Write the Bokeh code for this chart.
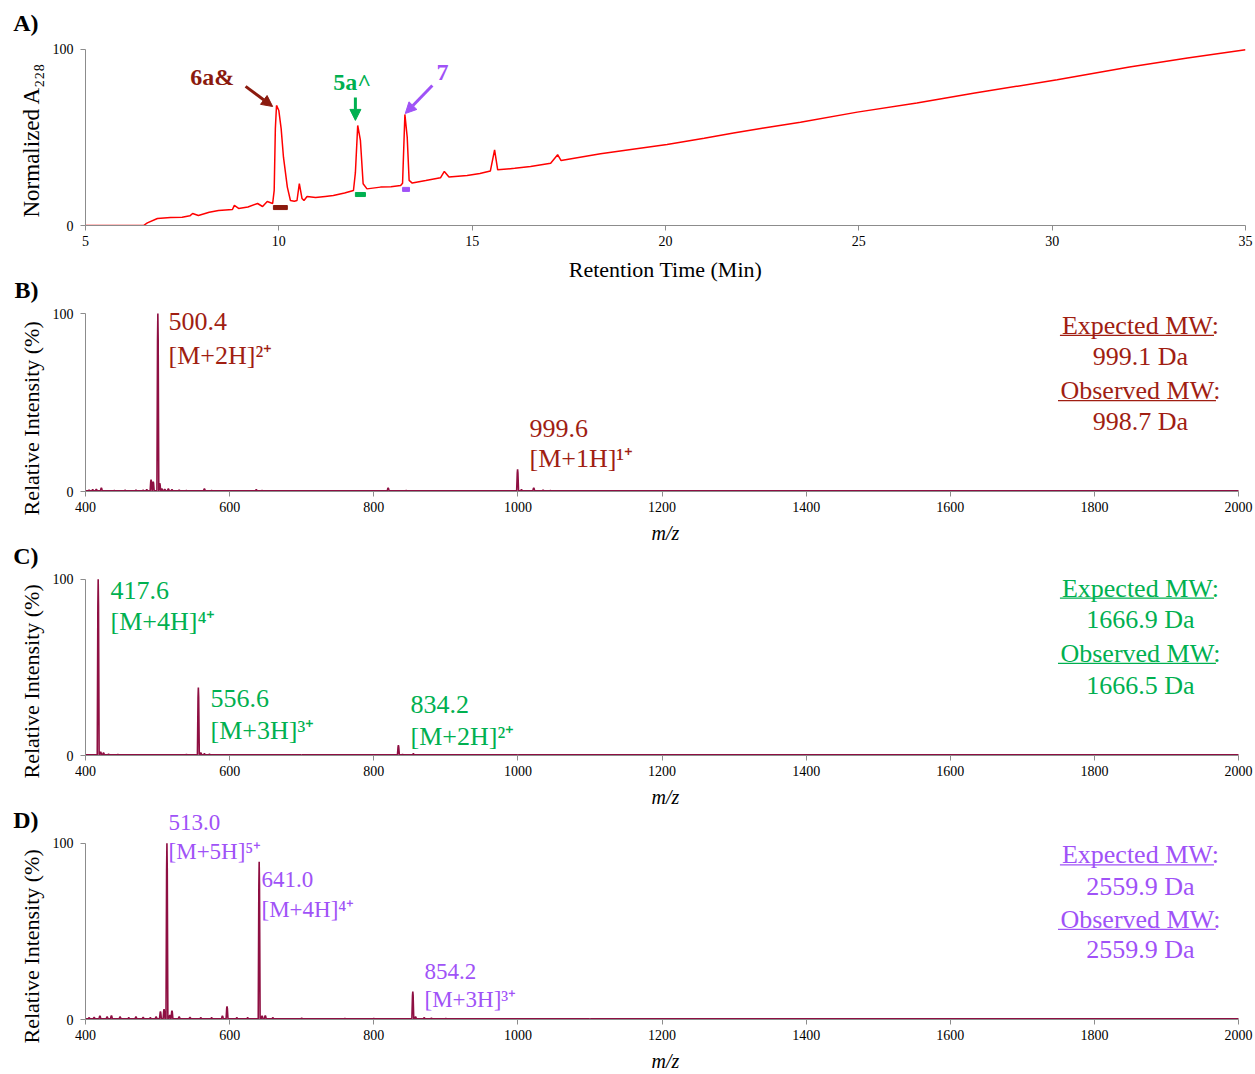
from bokeh.plotting import figure
from bokeh.layouts import column
from bokeh.models import Label, Arrow, NormalHead, FixedTicker, Range1d, LinearAxis, Title
from bokeh.embed import file_html
from bokeh.resources import INLINE

FONT = "Liberation Serif"

# ---------------- data ----------------
chrom_time = [5.0, 6.5, 6.6, 6.86, 7.2, 7.5, 7.7, 7.77, 7.92, 8.2, 8.44, 8.8, 8.85, 8.96, 9.2,
              9.45, 9.58, 9.7, 9.84, 9.88, 9.91, 9.94, 10.0, 10.06, 10.12, 10.22, 10.3, 10.4,
              10.47, 10.53, 10.6, 10.65, 10.73, 10.95, 11.2, 11.41, 11.7, 11.93, 11.98, 12.04,
              12.11, 12.18, 12.28, 12.63, 12.9, 13.15, 13.2, 13.26, 13.32, 13.37, 13.45, 13.8,
              14.18, 14.28, 14.4, 14.87, 15.2, 15.47, 15.58, 15.66, 16.1, 16.51, 17.03, 17.21,
              17.3, 18.32, 19.2, 20.04, 21.0, 21.76, 22.5, 23.49, 24.96, 26.5, 28.0, 30.13,
              32.0, 33.5, 35.0]
chrom_abs = [0, 0, 1.5, 4.0, 4.5, 4.7, 5.5, 6.8, 5.7, 7.5, 8.5, 9.1, 11.4, 9.7, 10.5,
             12.5, 10.8, 13.6, 12.5, 20, 55, 68.2, 65.3, 55, 38.8, 21.8, 14.2, 13.8,
             14.2, 23.8, 15.3, 14.2, 16.5, 15.9, 16.5, 17.0, 18.5, 19.9, 30, 56.8,
             48.3, 23.7, 20.8, 21.8, 22.0, 22.7, 24.0, 63.1, 50.2, 25.6, 24.1, 25.5,
             27.1, 30.7, 27.5, 28.4, 29.5, 30.9, 43.0, 31.6, 32.5, 33.5, 35.4, 40.2,
             36.9, 40.7, 43.5, 46.0, 49.5, 52.5, 55.3, 58.7, 64.4, 69.6, 75.2, 82.8,
             90.0, 95.2, 99.8]
chrom_ticks = [5, 10, 15, 20, 25, 30, 35]

frac_start = [9.86, 11.98, 13.20]
frac_end = [10.22, 12.24, 13.38]
frac_level = [10.2, 17.6, 20.5]
frac_names = ["6a&", "5a^", "7"]

B_mz = [405, 410, 415, 422, 440, 455, 470, 480, 485, 491, 494, 500.4, 503, 506, 510, 515,
        520, 530, 540, 565, 575, 637, 645, 820, 845, 999.6, 1005, 1022, 1035, 1045]
B_int = [0.8, 1.0, 1.2, 2.0, 0.6, 0.7, 0.8, 0.7, 1.0, 6.7, 5.5, 100, 4.7, 1.5, 1.2, 1.5,
         1.0, 0.8, 0.6, 1.5, 0.6, 1.0, 0.6, 2.0, 0.6, 12.4, 1.0, 2.0, 0.8, 0.5]

C_mz = [410, 417.6, 421, 425, 432, 445, 460, 490, 520, 540, 556.6, 560, 565, 572, 600, 700,
        834.2, 840, 855, 880, 1000]
C_int = [0.4, 100, 2.0, 1.5, 0.8, 0.6, 0.5, 0.4, 0.4, 0.6, 38.6, 1.5, 1.0, 0.8, 0.4, 0.3,
         5.8, 0.6, 1.0, 0.5, 0.3]

D_mz = [405, 412, 420, 430, 436, 448, 460, 470, 480, 490, 498, 504, 509, 513.0, 517, 520,
        530, 545, 560, 575, 590, 596.4, 610, 625, 641.0, 645, 649.5, 660, 700, 760, 800,
        854.2, 858, 870, 880, 900, 950, 1000, 1100]
D_int = [1.0, 1.2, 2.0, 1.5, 2.2, 1.5, 1.0, 1.5, 1.2, 1.0, 1.5, 4.5, 5.8, 100, 2.5, 5.0,
         1.5, 1.2, 1.0, 1.0, 2.0, 7.5, 1.0, 1.0, 89.5, 2.0, 2.2, 1.0, 0.8, 0.6, 0.6,
         15.9, 1.5, 1.0, 0.8, 0.6, 0.5, 0.4, 0.3]

ms_ticks = [400, 600, 800, 1000, 1200, 1400, 1600, 1800, 2000]

B_peak_labels = [("500.4", "[M+2H]²⁺", 515.2, 95.5, 76.4),
                 ("999.6", "[M+1H]¹⁺", 1016.1, 35.4, 18.5)]
C_peak_labels = [("417.6", "[M+4H]⁴⁺", 434.7, 93.8, 75.8),
                 ("556.6", "[M+3H]³⁺", 573.5, 32.6, 14.0),
                 ("834.2", "[M+2H]²⁺", 851.0, 29.2, 10.7)]
D_peak_labels = [("513.0", "[M+5H]⁵⁺", 515.2, 111.8, 95.5),
                 ("641.0", "[M+4H]⁴⁺", 644.2, 79.2, 62.4),
                 ("854.2", "[M+3H]³⁺", 870.4, 27.5, 11.2)]

B_mw = ("999.1 Da", "998.7 Da")
C_mw = ("1666.9 Da", "1666.5 Da")
D_mw = ("2559.9 Da", "2559.9 Da")

DARKRED = "#8B1A0E"
GREEN = "#00B050"
PURPLE = "#9F52F7"
MSRED = "#A01E12"
TRACE = "#8E0F42"
AXIS = "#8C8C8C"


def style(p, xticks, xlabel, italic_x, xaxis_bounds=None):
    p.xgrid.visible = False
    p.ygrid.visible = False
    p.outline_line_color = None
    p.border_fill_color = None
    p.background_fill_color = None
    p.xaxis.ticker = FixedTicker(ticks=xticks)
    p.yaxis.ticker = FixedTicker(ticks=[0, 100])
    p.yaxis.bounds = (0, 100)
    if xaxis_bounds is not None:
        p.xaxis.bounds = xaxis_bounds
    for ax in (p.xaxis[0], p.yaxis[0]):
        ax.axis_line_color = AXIS
        ax.major_tick_line_color = AXIS
        ax.minor_tick_line_color = None
        ax.major_tick_in = 0
        ax.major_tick_out = 5
        ax.major_label_text_font = FONT
        ax.major_label_text_font_size = "14px"
        ax.major_label_text_color = "black"
        ax.axis_label_text_font = FONT
        ax.axis_label_text_color = "black"
    p.xaxis.axis_label = xlabel
    p.xaxis.axis_label_text_font_size = "20px" if italic_x else "22px"
    p.xaxis.axis_label_text_font_style = "italic" if italic_x else "normal"
    p.xaxis.major_label_standoff = 5
    p.yaxis.major_label_standoff = 7
    p.xaxis.axis_label_standoff = 7


def side_texts(p, ylabel, ylabel_size, ylabel_offset, letter, letter_y):
    # y-axis title (rotated) placed next to the axis
    p.add_layout(Title(text=ylabel, align="left", offset=ylabel_offset, standoff=11,
                       text_font=FONT, text_font_size=f"{ylabel_size}px",
                       text_font_style="normal", text_color="black"), "left")
    # panel letter as a horizontal label of an unlined extra axis
    ax = LinearAxis(ticker=FixedTicker(ticks=[letter_y]),
                    major_label_overrides={letter_y: letter},
                    axis_line_color=None, major_tick_line_color=None,
                    minor_tick_line_color=None, major_tick_in=0, major_tick_out=0,
                    major_label_standoff=-27, major_label_text_font=FONT,
                    major_label_text_font_size="24px", major_label_text_font_style="bold",
                    major_label_text_color="black")
    p.add_layout(ax, "left")


def lab(p, x, y, text, color, size, align="left", bold=False):
    p.add_layout(Label(x=x, y=y, text=text, text_color=color, text_font=FONT,
                       text_font_size=f"{size}px", text_align=align,
                       text_baseline="middle",
                       text_font_style="bold" if bold else "normal"))


def profile(mz, inten, lo=400, hi=2000, base=0.35, w=1.3):
    xs, ys = [lo], [base]
    for m, h in sorted(zip(mz, inten)):
        xs += [m - w, m - 0.35 * w, m, m + 0.35 * w, m + w]
        ys += [base, h * 0.85, h, h * 0.85, base]
    xs.append(hi)
    ys.append(base)
    return xs, ys


# ---------------- panel A ----------------
pA = figure(width=1255, height=285, x_range=Range1d(5, 35), y_range=Range1d(0, 127.8),
            min_border_left=85, min_border_right=10, min_border_top=0, min_border_bottom=60,
            output_backend="svg", toolbar_location=None)
style(pA, chrom_ticks, "Retention Time (Min)", False)
pA.xaxis.axis_label_standoff = 8
side_texts(pA, "Normalized A₂₂₈", 23, 8, "A)", 115)
pA.line(chrom_time, chrom_abs, line_color="#FF0000", line_width=1.5)
pA.hbar(y=frac_level, left=frac_start, right=frac_end, height=2.3,
        color=[DARKRED, GREEN, PURPLE])
lab(pA, 8.28, 84.1, "6a&", DARKRED, 24, align="center", bold=True)
lab(pA, 11.9, 81.3, "5a^", GREEN, 24, align="center", bold=True)
lab(pA, 14.23, 86.9, "7", PURPLE, 24, align="center", bold=True)
for (x0, y0, x1, y1, c) in [(9.14, 79.0, 9.84, 67.6, DARKRED),
                            (11.98, 72.7, 11.98, 59.7, GREEN),
                            (13.97, 79.5, 13.27, 63.6, PURPLE)]:
    pA.add_layout(Arrow(end=NormalHead(size=11, fill_color=c, line_color=c),
                        x_start=x0, y_start=y0, x_end=x1, y_end=y1,
                        line_color=c, line_width=3))


# ---------------- MS panels ----------------
def ms_panel(height, top_margin, ytop, bottom, mz, inten, letter, letter_y, ylab_off,
             peak_labels, color, peak_size, mw, mw_ys):
    p = figure(width=1255, height=height, x_range=Range1d(400, 2009.7),
               y_range=Range1d(0, ytop),
               min_border_left=85, min_border_right=10, min_border_top=0,
               min_border_bottom=bottom, output_backend="svg", toolbar_location=None)
    p.margin = (top_margin, 0, 0, 0)
    style(p, ms_ticks, "m/z", True, xaxis_bounds=(400, 2000))
    side_texts(p, "Relative Intensity (%)", 22, ylab_off, letter, letter_y)
    xs, ys = profile(mz, inten)
    p.line(xs, ys, line_color=TRACE, line_width=1.6)
    for (t1, t2, x, y1, y2) in peak_labels:
        lab(p, x, y1, t1, color, peak_size)
        lab(p, x, y2, t2, color, peak_size)
    cx = 1864
    texts = ["Expected MW:", mw[0], "Observed MW:", mw[1]]
    for t, y in zip(texts, mw_ys):
        lab(p, cx, y, t, color, 26, align="center")
    # underlines for the two headings
    p.segment(x0=[cx - 4.9 - 106.9, cx - 4.9 - 109.6], y0=[mw_ys[0] - 5.6, mw_ys[2] - 5.6],
              x1=[cx - 4.9 + 106.9, cx - 4.9 + 109.6], y1=[mw_ys[0] - 5.6, mw_ys[2] - 5.6],
              line_color=color, line_width=1.3)
    return p


pB = ms_panel(275, -14, 123.6, 55, B_mz, B_int, "B)", 113, -24, B_peak_labels, MSRED, 26,
              B_mw, [93.3, 75.8, 56.7, 39.3])
pC = ms_panel(274, -10, 124.2, 53, C_mz, C_int, "C)", 113, -23, C_peak_labels, GREEN, 26,
              C_mw, [94.9, 77.0, 57.9, 39.9])
pD = ms_panel(274, -10, 124.2, 53, D_mz, D_int, "D)", 113, -24, D_peak_labels, PURPLE, 23,
              D_mw, [93.3, 75.3, 56.7, 39.9])

layout = column(pA, pB, pC, pD, spacing=0)
open("out.html", "w").write(file_html(layout, INLINE))
